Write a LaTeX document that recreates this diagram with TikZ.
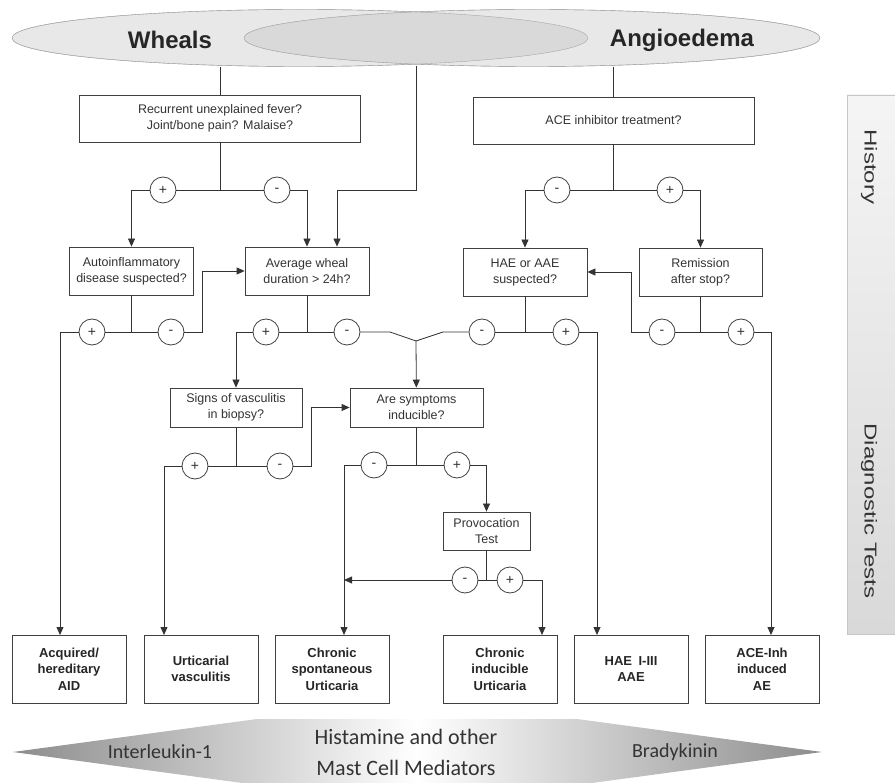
\documentclass[tikz,border=0pt]{standalone}
\usepackage{fontspec}
\setmainfont{Liberation Sans}
\newfontfamily\calfont{Carlito}
\usetikzlibrary{arrows.meta,shapes.geometric}

\tikzset{
  qbox/.style={draw=black!75, line width=0.8pt, fill=white, align=center, inner sep=0pt,
    text=black!80, font=\fontsize{12.5}{16}\selectfont},
  resbox/.style={draw=black!75, line width=0.8pt, fill=white, align=center, inner sep=0pt,
    minimum width=114pt, minimum height=68pt, text=black!85, font=\bfseries\fontsize{13}{16.5}\selectfont},
  signnode/.style={circle, draw=black!75, line width=0.8pt, fill=white, minimum size=26pt,
    inner sep=0pt, text=black!80, font=\fontsize{14}{14}\selectfont},
  link/.style={draw=black!80, line width=0.8pt},
  arrlink/.style={link, -{Triangle[length=8pt,width=7pt]}},
  bubble/.style={ellipse, draw=black!35, fill=black!9,
    minimum width=576pt, minimum height=57pt, inner sep=0pt},
  sidetext/.style={rotate=-90, text=black!80, font=\fontsize{24}{24}\selectfont},
}

\begin{document}
\begin{tikzpicture}[x=1pt,y=-1pt]
            \useasboundingbox (0,0) rectangle (895,783);

            % Draw the two symptom ellipses
            \node[bubble] (wheals) at (300,38) {};
            \node[bubble] (angio) at (532,38) {};
            \begin{scope}
                \clip (wheals.center) ellipse [x radius=288, y radius=28.5];
                \fill[black!15] (angio.center) ellipse [x radius=288, y radius=28.5];
            \end{scope}
            \draw[black!35] (wheals.center) ellipse [x radius=288, y radius=28.5];
            \draw[black!35] (angio.center) ellipse [x radius=288, y radius=28.5];
            \node[font=\bfseries\fontsize{24}{24}\selectfont, text=black!85] (whealsT) at (170,40) {Wheals};
            \node[font=\bfseries\fontsize{24}{24}\selectfont, text=black!85] (angioT) at (682,40) {Angioedema};

            % Draw the side panel
            \shade[top color=black!4, bottom color=black!15] (847,95) rectangle (895,634);
            \draw[black!22] (895,95) -- (847,95) -- (847,634) -- (895,634);
            \node[sidetext] (hist) at (869,167) {\scalebox{1}[0.72]{History}};
            \node[sidetext] (diag) at (869,511) {\scalebox{1}[0.72]{Diagnostic Tests}};

            % Draw the question boxes
            \node[qbox, minimum width=281pt, minimum height=47pt] (fever) at (220,118.5) {Recurrent unexplained fever?\\Joint/bone pain? Malaise?};
            \node[qbox, minimum width=281pt, minimum height=47pt] (ace) at (613.5,120.5) {ACE inhibitor treatment?};
            \node[qbox, minimum width=124pt, minimum height=48pt] (autoinf) at (131.5,271) {Autoinflammatory\\disease suspected?};
            \node[qbox, minimum width=124pt, minimum height=48pt] (wheal) at (307,271) {Average wheal\\duration > 24h?};
            \node[qbox, minimum width=124pt, minimum height=48pt] (hae) at (525,272) {HAE or AAE\\suspected?};
            \node[qbox, minimum width=123pt, minimum height=48pt] (remis) at (700.5,272) {Remission\\after stop?};
            \node[qbox, minimum width=132pt, minimum height=39pt] (vasc) at (236,407.5) {Signs of vasculitis\\in biopsy?};
            \node[qbox, minimum width=133pt, minimum height=39pt] (induc) at (416.5,407.5) {Are symptoms\\inducible?};
            \node[qbox, minimum width=87pt, minimum height=38pt] (provo) at (486.5,531) {Provocation\\Test};

            % Draw the diagnosis boxes
            \node[resbox] (acq) at (69,669) {Acquired/\\hereditary\\AID};
            \node[resbox] (urtv) at (201,669) {Urticarial\\vasculitis};
            \node[resbox] (csu) at (332,669) {Chronic\\spontaneous\\Urticaria};
            \node[resbox] (cindu) at (500,669) {Chronic\\inducible\\Urticaria};
            \node[resbox] (haeb) at (631,669) {HAE\enspace I-III\\AAE};
            \node[resbox] (aceb) at (762,669) {ACE-Inh\\induced\\AE};

            % Draw the answer signs
            \node[signnode] (fp) at (163,190) {+};
            \node[signnode] (fm) at (277,190) {-};
            \node[signnode] (cm) at (557,190) {-};
            \node[signnode] (cp) at (670,190) {+};
            \node[signnode] (ap) at (92,332) {+};
            \node[signnode] (am) at (171,332) {-};
            \node[signnode] (wp) at (266,332) {+};
            \node[signnode] (wm) at (347,332) {-};
            \node[signnode] (hm) at (482,332) {-};
            \node[signnode] (hp) at (566,332) {+};
            \node[signnode] (rm) at (662,332) {-};
            \node[signnode] (rp) at (741,332) {+};
            \node[signnode] (vp) at (195,466) {+};
            \node[signnode] (vm) at (280,466) {-};
            \node[signnode] (im) at (374,465) {-};
            \node[signnode] (ip) at (457,465) {+};
            \node[signnode] (pm) at (465,580) {-};
            \node[signnode] (pp) at (510,580) {+};

            % Bend and entry points
            \coordinate (wdrop) at (416,66);
            \coordinate (wturn) at (337,190);
            \coordinate (amturn) at (202,332);
            \coordinate (rmturn) at (631,332);
            \coordinate (vmturn) at (311,466);
            \coordinate (mergeL) at (390,332);
            \coordinate (merge) at (416,341);
            \coordinate (mergeR) at (443,332);
            \coordinate (acqin) at (60,635);
            \coordinate (urtin) at (164,635);
            \coordinate (csuin) at (344,635);
            \coordinate (ciin) at (542,635);
            \coordinate (haein) at (597,635);
            \coordinate (acein) at (771,635);

            % Wheals branch
            \draw[link] (fever.north) -- (fever.north |- wheals.south);
            \draw[link] (fever) -- (fever.south |- fp);
            \draw[link] (fp) -- (fm);
            \draw[arrlink] (fp) -| (autoinf);
            \draw[arrlink] (fm) -| (wheal);
            \draw[arrlink] (wdrop) |- (wturn) -- (wturn |- wheal.north);

            \draw[link] (autoinf) -- (autoinf.south |- ap);
            \draw[link] (ap) -- (am);
            \draw[arrlink] (ap) -| (acqin);
            \draw[arrlink] (am) -- (amturn) |- (wheal.west);

            \draw[link] (wheal) -- (wheal.south |- wp);
            \draw[link] (wp) -- (wm);
            \draw[arrlink] (wp) -| (vasc);
            \draw[link] (wm) -- (mergeL) -- (merge) -- (mergeR) -- (hm);
            \draw[arrlink] (merge) -- (induc);

            \draw[link] (vasc) -- (vasc.south |- vp);
            \draw[link] (vp) -- (vm);
            \draw[arrlink] (vp) -| (urtin);
            \draw[arrlink] (vm) -- (vmturn) |- (induc.west);

            \draw[link] (induc) -- (induc.south |- im);
            \draw[link] (im) -- (ip);
            \draw[arrlink] (im) -| (csuin);
            \draw[arrlink] (ip) -| (provo);

            \draw[link] (provo) -- (provo.south |- pm);
            \draw[link] (pm) -- (pp);
            \draw[arrlink] (pm) -- (pm -| csuin);
            \draw[arrlink] (pp) -| (ciin);

            % Angioedema branch
            \draw[link] (ace.north) -- (ace.north |- angio.south);
            \draw[link] (ace) -- (ace.south |- cm);
            \draw[link] (cm) -- (cp);
            \draw[arrlink] (cm) -| (hae);
            \draw[arrlink] (cp) -| (remis);

            \draw[link] (hae) -- (hae.south |- hm);
            \draw[link] (hm) -- (hp);
            \draw[arrlink] (hp) -| (haein);

            \draw[link] (remis) -- (remis.south |- rm);
            \draw[link] (rm) -- (rp);
            \draw[arrlink] (rm) -- (rmturn) |- (hae.east);
            \draw[arrlink] (rp) -| (acein);

            % Draw the mediator banner
            \shade[left color=black!45, right color=black!45, middle color=white]
                (13,752) -- (257,719) -- (577,719) -- (822,752) -- (577,785) -- (257,785) -- cycle;
            \node[text=black!80, font=\calfont\fontsize{20}{20}\selectfont] (il1) at (160,752) {Interleukin-1};
            \node[text=black!80, align=center, font=\calfont\fontsize{22}{31}\selectfont] (hist1) at (406,752) {Histamine and other\\Mast Cell Mediators};
            \node[text=black!80, font=\calfont\fontsize{20}{20}\selectfont] (brady) at (675,752) {Bradykinin};

        \end{tikzpicture}
\end{document}
